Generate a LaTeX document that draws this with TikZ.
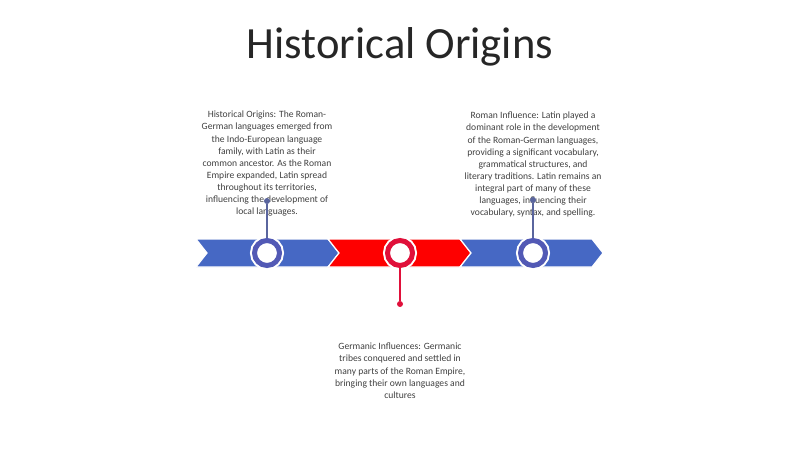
\documentclass[tikz,border=0pt]{standalone}
\usepackage{fontspec}
\setmainfont{Carlito}
\definecolor{bandblue}{HTML}{4668C4}
\definecolor{bandred}{HTML}{FE0000}
\definecolor{ringblue}{HTML}{5259B5}
\definecolor{ringred}{HTML}{E0103A}
\definecolor{stemblue}{HTML}{5A659E}
\definecolor{textgray}{HTML}{404040}
\definecolor{titlegray}{HTML}{262626}

\begin{document}
\begin{tikzpicture}[x=1pt, y=-1pt,
  chevron/.style={draw=white, line width=1.2pt, line join=miter},
  ring/.style={circle, minimum size=25pt, inner sep=0pt, line width=5pt,
    fill=white, draw=#1, preaction={draw=white, line width=9pt}},
  dot/.style={circle, minimum size=6pt, inner sep=0pt, fill=#1},
  stem/.style={draw=#1, line width=1.5pt},
  note/.style={align=center, inner sep=0pt, text=textgray,
    font=\fontsize{9.6}{12.1}\selectfont}]
  \useasboundingbox (0,0) rectangle (800,449);

  % title
  \node [anchor=base, text=titlegray, font=\fontsize{44.6}{52}\selectfont]
    (title) at (400,59) {Historical Origins};

  % band of chevrons
  \foreach \x/\col in {196/bandblue, 328/bandred, 460/bandblue}
    \filldraw [chevron, fill=\col] (\x,239) -- ++(132,0) -- ++(11,14)
      -- ++(-11,14) -- ++(-132,0) -- ++(11,-14) -- cycle;

  % notes
  \node [note, anchor=north] (t1) at (267,111)
    {Historical Origins: The Roman-\\German languages emerged from\\
     the Indo-European language\\family, with Latin as their\\
     common ancestor. As the Roman\\Empire expanded, Latin spread\\
     throughout its territories,\\influencing the development of\\
     local languages.};
  \node [note, anchor=north] (t3) at (533,112)
    {Roman Influence: Latin played a\\dominant role in the development\\
     of the Roman-German languages,\\providing a significant vocabulary,\\
     grammatical structures, and\\literary traditions. Latin remains an\\
     integral part of many of these\\languages, influencing their\\
     vocabulary, syntax, and spelling.};
  \node [note, anchor=north] (t2) at (400,343)
    {Germanic Influences: Germanic\\tribes conquered and settled in\\
     many parts of the Roman Empire,\\bringing their own languages and\\
     cultures};

  % markers
  \node [ring=ringblue] (c1) at (267,253) {};
  \node [ring=ringred] (c2) at (400,253) {};
  \node [ring=ringblue] (c3) at (533,253) {};
  \node [dot=stemblue] (d1) at (267,201) {};
  \node [dot=ringred] (d2) at (400,304) {};
  \node [dot=stemblue] (d3) at (533,200) {};
  \draw [stem=stemblue] (c1) -- (d1);
  \draw [stem=ringred] (c2) -- (d2);
  \draw [stem=stemblue] (c3) -- (d3);
\end{tikzpicture}
\end{document}
